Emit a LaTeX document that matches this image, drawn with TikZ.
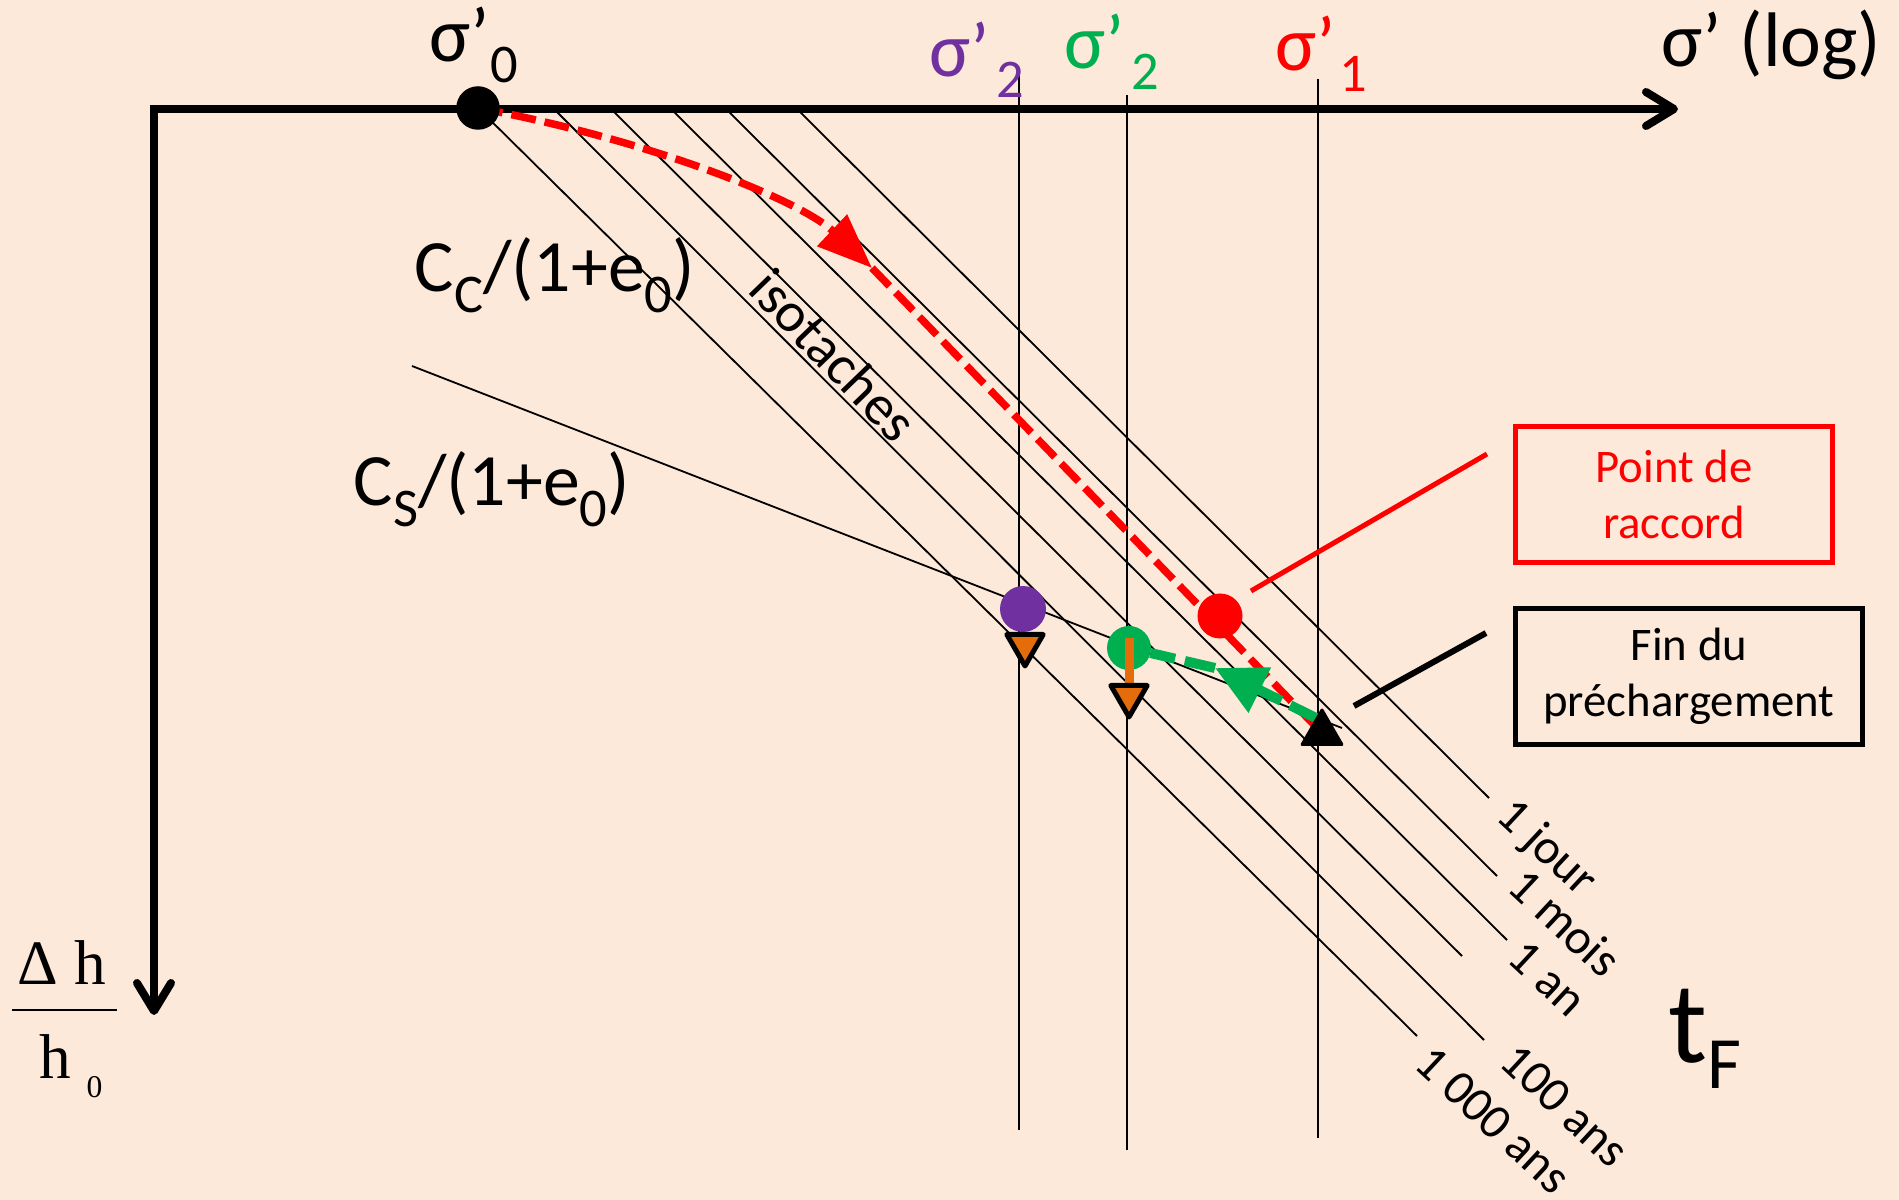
\documentclass[tikz,border=0pt]{standalone}
\usepackage{fontspec}
\setmainfont{Carlito}
\newfontfamily\timesf{Liberation Serif}
\usetikzlibrary{arrows.meta,shapes.geometric}
\definecolor{bgc}{HTML}{FDE9D9}
\definecolor{purplec}{HTML}{7030A0}
\definecolor{greenc}{HTML}{00B050}
\definecolor{orangec}{HTML}{E46C0A}
\definecolor{redc}{HTML}{FF0000}
\pgfdeclarelayer{bgl}
\pgfdeclarelayer{lines}
\pgfsetlayers{bgl,lines,main}
\newcommand\sbs[1]{\raisebox{-2.1mm}{\fontsize{15.5}{16}\selectfont #1}}
\tikzset{
 thinline/.style={line width=0.18mm, black},
 axisline/.style={line width=0.8mm, black, line join=miter},
 dotnode/.style={circle, inner sep=0pt, outer sep=0pt},
 tridown/.style={regular polygon, regular polygon sides=3, shape border rotate=180, inner sep=0pt, outer sep=0pt, minimum size=4.2mm, fill=orangec, draw=black, line width=0.5mm, line join=round},
 triup/.style={regular polygon, regular polygon sides=3, inner sep=0pt, outer sep=0pt, minimum size=4.6mm, fill=black, draw=black, line width=0.3mm, line join=round},
 reddash/.style={redc, line width=0.75mm, dash pattern=on 2.5mm off 0.9mm},
 greendash/.style={greenc, line width=1mm, dash pattern=on 3.1mm off 1mm},
 siglabel/.style={anchor=base west, inner sep=0pt, font=\fontsize{22}{26}\selectfont},
 timelabel/.style={anchor=mid west, inner sep=0pt, rotate=-43, font=\fontsize{14}{17}\selectfont},
 slopelabel/.style={anchor=base west, inner sep=0pt, font=\fontsize{21}{25}\selectfont},
 boxnode/.style={line width=0.5mm, minimum height=13.6mm, align=center, font=\fontsize{13.3}{16}\selectfont},
 calloutline/.style={line width=0.5mm},
}
\begin{document}
\begin{tikzpicture}[x=0.1mm,y=-0.1mm]
\useasboundingbox (0,0) rectangle (1899,1200);
\begin{pgfonlayer}{bgl}
\fill[bgc] (0,0) rectangle (1899,1200);
\end{pgfonlayer}

% ---------- markers ----------
\node[dotnode, fill=black, minimum size=4.35mm] (o) at (478,108) {};
\node[dotnode, fill=purplec, minimum size=4.6mm] (pdot) at (1023,609) {};
\node[dotnode, fill=greenc, minimum size=4.4mm] (gdot) at (1129,648) {};
\node[dotnode, fill=redc, minimum size=4.5mm] (rdot) at (1220,616) {};
\node[tridown] (ptri) at (1025,645) {};
\coordinate (obs) at (1129,638);
\coordinate (obe) at (1129,684);
\draw[orangec, line width=0.9mm] (obs) -- (obe);
\node[tridown] (gtri) at (1129,696) {};
\node[triup] (btri) at (1322,733) {};

% ---------- coordinates ----------
\coordinate (corner) at (154,109);
\coordinate (xtip) at (1678,109);
\coordinate (ytip) at (154,1015);
\coordinate (a1) at (478,108);  \coordinate (b1) at (1417,1036);
\coordinate (a2) at (551,106);  \coordinate (b2) at (1484,1040);
\coordinate (a3) at (608,106);  \coordinate (b3) at (1462,956);
\coordinate (a4) at (668,106);  \coordinate (b4) at (1507,940);
\coordinate (a5) at (723,106);  \coordinate (b5) at (1497,876);
\coordinate (a6) at (794,106);  \coordinate (b6) at (1489,798);
\coordinate (cs1) at (412,366); \coordinate (cs2) at (1342,728);
\coordinate (vp1) at (1019,73);  \coordinate (vp2) at (1019,1130);
\coordinate (vg1) at (1127,95);  \coordinate (vg2) at (1127,1150);
\coordinate (vr1) at (1318,79);  \coordinate (vr2) at (1318,1138);
\coordinate (rm) at (872,268);
\coordinate (gs) at (1318,719);
\coordinate (gm) at (1215,668);

\begin{pgfonlayer}{lines}
% isotaches
\draw[thinline] (a1) -- (b1);
\draw[thinline] (a2) -- (b2);
\draw[thinline] (a3) -- (b3);
\draw[thinline] (a4) -- (b4);
\draw[thinline] (a5) -- (b5);
\draw[thinline] (a6) -- (b6);
% swelling line
\draw[thinline] (cs1) -- (cs2);
% stress levels
\draw[thinline] (vp1) -- (vp2);
\draw[thinline] (vg1) -- (vg2);
\draw[thinline] (vr1) -- (vr2);
% axes
\draw[axisline, {Straight Barb[length=2.8mm,width=3.4mm,round]}-{Straight Barb[length=2.8mm,width=3.4mm,round]}] (ytip) -- (corner) -- (xtip);
% loading path
\draw[reddash, -{Triangle[length=5.5mm,width=4.2mm]}] (o.center) .. controls (650,140) and (800,200) .. (rm);
\draw[reddash] (rm) -- (btri);
% unloading path
\draw[greendash, -{Triangle[length=5mm,width=4.8mm]}] (gs) -- (gm);
\draw[greendash] (gm) -- (gdot);
\end{pgfonlayer}

% ---------- labels ----------
\node[siglabel] (ls0) at (429,62) {σ’\sbs{0}};
\node[siglabel, text=purplec] (ls2p) at (929,77) {σ’\kern0.6mm\sbs{2}};
\node[siglabel, text=greenc] (ls2g) at (1064,69) {σ’\kern0.6mm\sbs{2}};
\node[siglabel, text=redc] (ls1) at (1275,71) {σ’\kern0.3mm\sbs{1}};
\node[siglabel] (llog) at (1661,67) {σ’ (log)};

\node[slopelabel] (lcc) at (414,292) {C\sbs{C}/(1+e\sbs{0})};
\node[slopelabel] (lcs) at (353,506) {C\sbs{S}/(1+e\sbs{0})};

\node[rotate=-46, inner sep=0pt, font=\fontsize{16}{19}\selectfont] (liso) at (834,355) {isotaches};

\node[timelabel] (t1) at (1500,812) {1 jour};
\node[timelabel] (t2) at (1511,883) {1 mois};
\node[timelabel] (t3) at (1511,954) {1 an};
\node[timelabel] (t4) at (1503,1058) {100 ans};
\node[timelabel] (t5) at (1418,1060) {1 000 ans};

\node[anchor=base west, inner sep=0pt] (ltf) at (1668,1062) {\fontsize{33}{36}\selectfont t{\fontsize{21}{24}\selectfont\raisebox{-2.6mm}{F}}};

% y-axis label
\node[anchor=base west, inner sep=0pt, font=\timesf\fontsize{18}{20}\selectfont] (ldh) at (17,985) {Δ h};
\coordinate (fb1) at (12,1010); \coordinate (fb2) at (117,1010);
\draw[line width=0.27mm] (fb1) -- (fb2);
\node[anchor=base west, inner sep=0pt, font=\timesf\fontsize{18}{20}\selectfont] (lh) at (39,1078) {h};
\node[anchor=base west, inner sep=0pt, font=\timesf\fontsize{9}{10}\selectfont] (lh0) at (86,1097) {0};

% ---------- boxes and callouts ----------
\node[boxnode, draw=redc, text=redc, minimum width=31.7mm] (pr) at (1674,494.5) {Point de\\raccord};
\node[boxnode, draw=black, minimum width=34.7mm] (fp) at (1689,676.5) {Fin du\\préchargement};
\coordinate (rc1) at (1251,591); \coordinate (rc2) at (1487,454);
\coordinate (bc1) at (1354,706); \coordinate (bc2) at (1486,633);
\draw[calloutline, redc] (rc1) -- (rc2);
\draw[calloutline, black, line width=0.6mm] (bc1) -- (bc2);
\end{tikzpicture}
\end{document}
